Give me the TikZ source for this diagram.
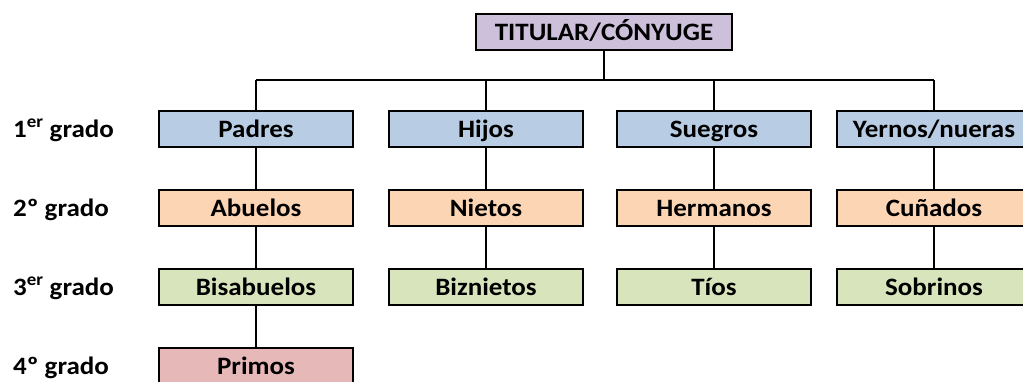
\documentclass[tikz,border=0pt]{standalone}
\usepackage{fontspec}
\setmainfont{Carlito}[FakeStretch=1.08]
\definecolor{cpurple}{HTML}{CCC0DA}
\definecolor{cblue}{HTML}{B8CCE4}
\definecolor{corange}{HTML}{FCD5B4}
\definecolor{cgreen}{HTML}{D8E4BC}
\definecolor{cred}{HTML}{E6B9B8}
\begin{document}
\begin{tikzpicture}[x=1pt,y=-1pt,
  box/.style={draw=black,line width=1.6pt,minimum width=194pt,minimum height=36pt,inner sep=0pt,
    text height=20pt,text depth=4pt,font=\fontsize{25}{28}\selectfont\bfseries},
  lbl/.style={anchor=base west,inner sep=0pt,font=\fontsize{25}{28}\selectfont\bfseries},
  conn/.style={line width=1.6pt}]
\useasboundingbox (0,0) rectangle (1023,381);
\clip (0,0) rectangle (1023,381);
\node[box,fill=cpurple,minimum width=256pt] (tit) at (604,32) {TITULAR/CÓNYUGE};
\coordinate (hub) at (604,80);
\coordinate (c1) at (256,80);
\coordinate (c2) at (486,80);
\coordinate (c3) at (714,80);
\coordinate (c4) at (934,80);
% row 1
\node[box,fill=cblue] (padres) at (256,129) {Padres};
\node[box,fill=cblue] (hijos) at (486,129) {Hijos};
\node[box,fill=cblue] (suegros) at (714,129) {Suegros};
\node[box,fill=cblue] (yernos) at (934,129) {Yernos/nueras};
% row 2
\node[box,fill=corange] (abuelos) at (256,208) {Abuelos};
\node[box,fill=corange] (nietos) at (486,208) {Nietos};
\node[box,fill=corange] (hermanos) at (714,208) {Hermanos};
\node[box,fill=corange] (cunados) at (934,208) {Cuñados};
% row 3
\node[box,fill=cgreen] (bisabuelos) at (256,287) {Bisabuelos};
\node[box,fill=cgreen] (biznietos) at (486,287) {Biznietos};
\node[box,fill=cgreen] (tios) at (714,287) {Tíos};
\node[box,fill=cgreen] (sobrinos) at (934,287) {Sobrinos};
% row 4
\node[box,fill=cred] (primos) at (256,366) {Primos};
% labels
\node[lbl] (g1) at (13,137) {1\textsuperscript{er} grado};
\node[lbl] (g2) at (13,216) {2º grado};
\node[lbl] (g3) at (13,295) {3\textsuperscript{er} grado};
\node[lbl] (g4) at (13,374) {4º grado};
% connectors
\draw[conn] (tit.south) -- (hub);
\draw[conn] (c1) -- (c4);
\draw[conn] (c1) -- (padres.north);
\draw[conn] (c2) -- (hijos.north);
\draw[conn] (c3) -- (suegros.north);
\draw[conn] (c4) -- (yernos.north);
\draw[conn] (padres) -- (abuelos);
\draw[conn] (hijos) -- (nietos);
\draw[conn] (suegros) -- (hermanos);
\draw[conn] (yernos) -- (cunados);
\draw[conn] (abuelos) -- (bisabuelos);
\draw[conn] (nietos) -- (biznietos);
\draw[conn] (hermanos) -- (tios);
\draw[conn] (cunados) -- (sobrinos);
\draw[conn] (bisabuelos) -- (primos);
\end{tikzpicture}
\end{document}
